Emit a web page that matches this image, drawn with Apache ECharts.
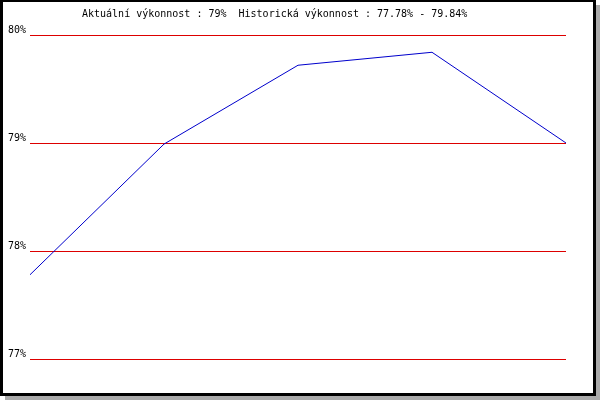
<!DOCTYPE html>
<html>
<head>
<meta charset="utf-8">
<script src="https://cdn.jsdelivr.net/npm/echarts@6/dist/echarts.min.js"></script>
<style>html,body{margin:0;padding:0;background:#fff;}#c{width:600px;height:400px;}</style>
</head>
<body>
<div id="c"></div>
<script>
var categories = ['1', '2', '3', '4', '5'];
var values = [77.78, 78.99, 79.72, 79.84, 79.00];
var yTicks = [77, 78, 79, 80];
var titleText = 'Aktuální výkonnost : 79%  Historická výkonnost : 77.78% - 79.84%';

var chart = echarts.init(document.getElementById('c'), null, {renderer: 'canvas'});
chart.setOption({
  animation: false,
  backgroundColor: '#ffffff',
  graphic: [
    {type: 'rect', z: -10, silent: true, shape: {x: 5, y: 5, width: 595, height: 395}, style: {fill: '#aaaaaa'}},
    {type: 'rect', z: -9, silent: true, shape: {x: 0, y: 0, width: 596, height: 396}, style: {fill: '#000000'}},
    {type: 'rect', z: -8, silent: true, shape: {x: 3, y: 2, width: 590, height: 391}, style: {fill: '#ffffff'}}
  ],
  title: {
    text: titleText,
    left: 82,
    top: 9,
    padding: 0,
    textStyle: {fontFamily: 'DejaVu Sans Mono', fontSize: 10, fontWeight: 'normal', color: '#000'}
  },
  grid: {left: 30, right: 34, top: 35, bottom: 41, containLabel: false},
  xAxis: {
    type: 'category',
    data: categories,
    boundaryGap: false,
    show: false
  },
  yAxis: {
    type: 'value',
    min: yTicks[0],
    max: yTicks[yTicks.length - 1],
    interval: 1,
    axisLine: {show: false},
    axisTick: {show: false},
    axisLabel: {
      formatter: function (v) { return v + '%'; },
      fontFamily: 'DejaVu Sans Mono',
      fontSize: 10,
      color: '#000',
      margin: 4,
      verticalAlign: 'bottom',
      padding: [0, 0, 0, 0]
    },
    splitLine: {show: true, lineStyle: {color: '#dd0000', width: 1}}
  },
  series: [{
    type: 'line',
    data: values,
    symbol: 'none',
    lineStyle: {color: '#0000cc', width: 1},
    itemStyle: {color: '#0000cc'}
  }]
});
</script>
</body>
</html>
